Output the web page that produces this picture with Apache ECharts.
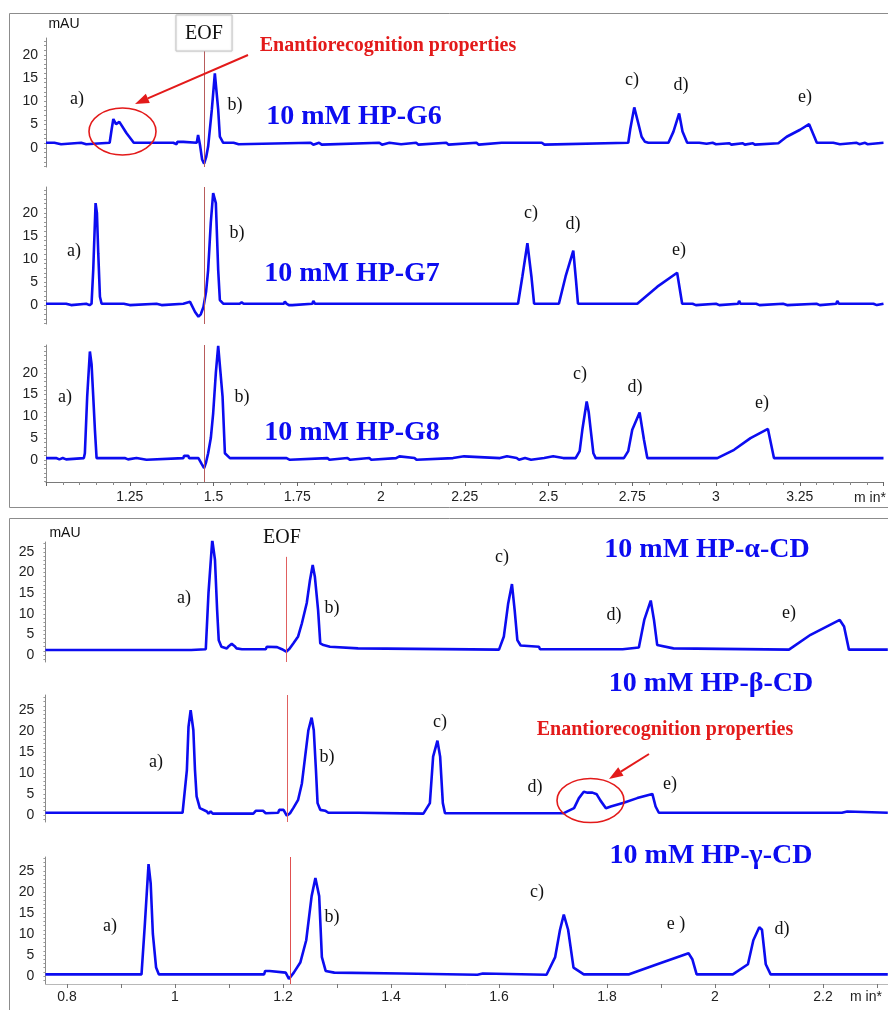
<!DOCTYPE html>
<html>
<head>
<meta charset="utf-8">
<script src="https://cdn.jsdelivr.net/npm/echarts@6/dist/echarts.min.js"></script>
<style>
html, body { margin: 0; padding: 0; background: #fff; }
#chart { width: 888px; height: 1010px; }
</style>
</head>
<body>
<div id="chart"></div>
<script>
// tick labels
var topXLabels = [1.25, 1.5, 1.75, 2, 2.25, 2.5, 2.75, 3, 3.25];
var bottomXLabels = [0.8, 1, 1.2, 1.4, 1.6, 1.8, 2, 2.2];
var bottomXTicks = [0.8, 0.9, 1, 1.1, 1.2, 1.3, 1.4, 1.5, 1.6, 1.7, 1.8, 1.9, 2, 2.1, 2.2, 2.3];
var topYLabels = [0, 5, 10, 15, 20];
var bottomYLabels = [0, 5, 10, 15, 20, 25];
var yTicks = [-5, -4, -3, -2, -1, 0, 1, 2, 3, 4, 5, 6, 7, 8, 9, 10, 11, 12, 13, 14, 15, 16, 17, 18, 19, 20, 21, 22, 23, 24, 25, 26, 27, 28, 29, 30];

// EOF positions (min)
var eofTop = 1.473;
var eofAlpha = 1.206;
var eofBeta = 1.208;
var eofGamma = 1.213;

// traces [min, mAU]
var traceG6 = [
	[1.000,1.1],[1.025,1.1],[1.027,0.8],[1.045,0.8],[1.047,1.1],[1.105,1.1],[1.107,0.8],[1.120,0.8],[1.122,1.1],
	[1.190,1.1],[1.196,4.0],[1.201,6.2],[1.209,5.1],[1.219,5.6],[1.240,3.2],[1.262,1.1],
	[1.380,1.1],[1.382,0.8],[1.390,0.8],[1.392,1.3],[1.410,1.3],[1.412,1.1],
	[1.450,1.1],[1.454,2.8],[1.460,0.5],[1.466,-2.5],[1.472,-3.4],[1.478,-2.0],[1.484,0.3],[1.495,8.2],[1.504,16.0],[1.514,8.2],[1.519,2.4],[1.529,1.1],
	[1.560,1.1],[1.562,0.8],[1.575,0.8],[1.577,1.1],
	[1.790,1.1],[1.792,0.7],[1.798,0.7],[1.800,1.1],[1.815,1.1],[1.817,0.7],[1.823,0.7],[1.825,1.1],
	[1.995,1.1],[1.997,0.7],[2.003,0.7],[2.005,1.1],[2.025,1.1],[2.027,0.8],[2.060,0.8],[2.062,1.1],
	[2.105,1.1],[2.107,0.7],[2.112,0.7],[2.114,1.1],[2.195,1.1],[2.197,0.7],[2.202,0.7],[2.204,1.1],
	[2.285,1.1],[2.287,0.7],[2.292,0.7],[2.294,1.1],[2.360,1.1],[2.364,1.4],[2.368,1.1],
	[2.480,1.1],[2.482,0.7],[2.488,0.7],[2.490,1.1],
	[2.738,1.1],[2.744,4.0],[2.756,8.7],[2.768,5.3],[2.778,2.4],[2.788,1.3],[2.798,1.1],
	[2.858,1.1],[2.873,3.5],[2.890,7.4],[2.900,3.5],[2.914,1.1],
	[2.950,1.1],[2.952,0.9],[2.972,0.9],[2.975,1.1],[2.990,1.1],[2.992,0.8],[3.000,0.8],[3.002,1.0],
	[3.040,1.0],[3.042,0.7],[3.046,0.7],[3.048,1.0],[3.080,1.0],[3.082,0.7],[3.086,0.7],[3.088,1.0],
	[3.110,1.0],[3.112,0.7],[3.116,0.7],[3.118,1.0],
	[3.186,1.0],[3.211,2.4],[3.251,3.9],[3.278,5.1],[3.301,1.1],
	[3.350,1.1],[3.352,0.8],[3.370,0.8],[3.372,1.1],[3.420,1.1],[3.422,0.8],[3.428,0.8],[3.430,1.1],
	[3.445,1.1],[3.447,0.8],[3.452,0.8],[3.454,1.1],[3.500,1.1]
];

var traceG7 = [
	[1.000,0.3],[1.060,0.3],[1.062,0.0],[1.075,0.0],[1.077,0.3],[1.120,0.3],[1.122,0.0],[1.130,0.0],[1.132,0.3],
	[1.136,0.3],[1.141,7.6],[1.148,22.1],[1.152,20.0],[1.156,11.2],[1.161,1.8],[1.166,0.3],
	[1.225,0.3],[1.227,0.7],[1.232,0.3],[1.237,0.0],[1.250,0.0],[1.252,0.3],
	[1.330,0.3],[1.332,0.0],[1.345,0.0],[1.347,0.3],
	[1.410,0.3],[1.412,0.7],[1.430,0.7],[1.435,0.3],[1.445,-1.5],[1.455,-2.5],[1.462,-2.0],[1.470,-0.4],[1.478,3.0],[1.484,7.6],[1.492,18.0],[1.499,24.3],[1.507,22.1],[1.514,7.6],[1.519,1.1],[1.529,0.3],
	[1.570,0.3],[1.572,0.6],[1.578,0.3],[1.584,0.6],[1.590,0.3],
	[1.710,0.3],[1.713,0.8],[1.718,0.3],[1.725,0.0],[1.735,0.0],[1.737,0.3],[1.795,0.3],[1.798,0.9],[1.803,0.3],
	[2.133,0.3],[2.136,0.6],[2.140,0.3],[2.275,0.3],[2.278,0.7],[2.282,0.3],
	[2.409,0.3],[2.422,6.2],[2.437,13.4],[2.449,6.2],[2.457,0.3],
	[2.531,0.3],[2.551,6.2],[2.574,11.8],[2.582,5.4],[2.588,0.3],
	[2.765,0.3],[2.825,4.0],[2.884,7.0],[2.899,0.3],
	[2.930,0.3],[2.932,0.0],[2.940,0.0],[2.942,0.3],[3.000,0.3],[3.002,0.0],[3.010,0.0],[3.012,0.3],
	[3.066,0.3],[3.069,0.9],[3.073,0.3],[3.120,0.3],[3.122,0.0],[3.130,0.0],[3.132,0.3],
	[3.200,0.3],[3.202,0.0],[3.212,0.0],[3.214,0.3],[3.300,0.3],[3.302,0.0],[3.310,0.0],[3.312,0.3],
	[3.359,0.3],[3.362,0.9],[3.367,0.3],[3.395,0.3],[3.398,0.6],[3.402,0.3],[3.470,0.3],[3.472,0.0],[3.480,0.0],[3.482,0.3],[3.500,0.3]
];

var traceG8 = [
	[1.000,0.4],[1.030,0.4],[1.032,0.1],[1.040,0.1],[1.042,0.4],[1.050,0.4],[1.052,0.1],[1.060,0.1],[1.062,0.4],
	[1.113,0.4],[1.116,1.5],[1.123,14.6],[1.131,24.9],[1.136,22.0],[1.141,14.6],[1.146,6.9],[1.151,0.4],
	[1.235,0.4],[1.237,0.1],[1.245,0.1],[1.247,0.4],[1.270,0.4],[1.272,0.0],[1.300,0.0],[1.302,0.4],
	[1.410,0.4],[1.412,0.9],[1.425,0.9],[1.427,0.4],
	[1.455,0.4],[1.465,-1.0],[1.472,-1.9],[1.478,-0.5],[1.484,1.5],[1.492,5.0],[1.499,10.7],[1.507,20.0],[1.514,26.2],[1.519,26.2],[1.527,14.6],[1.534,1.5],[1.549,0.4],
	[1.710,0.4],[1.713,0.8],[1.718,0.4],[1.722,0.0],[1.728,0.0],[1.730,0.4],[1.840,0.4],[1.842,0.0],[1.846,0.0],[1.848,0.4],
	[1.900,0.4],[1.902,0.0],[1.908,0.0],[1.910,0.4],[1.965,0.4],[1.967,0.0],[1.971,0.0],[1.973,0.4],
	[2.045,0.4],[2.047,0.8],[2.055,0.8],[2.057,0.4],[2.100,0.4],[2.102,0.0],[2.106,0.0],[2.108,0.4],
	[2.215,0.4],[2.218,0.8],[2.248,0.8],[2.250,0.4],[2.355,0.4],[2.357,0.8],[2.376,0.8],[2.378,0.4],
	[2.405,0.4],[2.407,0.0],[2.412,0.0],[2.414,0.4],[2.430,0.4],[2.432,0.0],[2.448,0.0],[2.450,0.4],
	[2.487,0.4],[2.489,0.8],[2.514,0.8],[2.516,0.4],[2.544,0.4],[2.546,0.8],[2.550,0.4],
	[2.581,0.4],[2.593,2.0],[2.601,6.9],[2.614,13.4],[2.620,11.0],[2.626,6.9],[2.634,1.5],[2.641,0.4],
	[2.654,0.4],[2.656,0.8],[2.659,0.4],[2.684,0.4],[2.686,0.8],[2.689,0.4],
	[2.725,0.4],[2.738,2.0],[2.750,6.9],[2.772,10.9],[2.785,4.6],[2.795,0.4],
	[2.977,0.4],[2.979,0.8],[2.982,0.4],
	[3.004,0.4],[3.054,2.3],[3.103,5.0],[3.155,7.1],[3.173,0.4],
	[3.400,0.4],[3.402,0.8],[3.406,0.4],[3.500,0.4]
];

var traceAlpha = [
	[0.760,1.2],[1.030,1.2],[1.031,1.4],[1.057,1.4],[1.062,15.0],[1.069,27.9],[1.074,23.1],[1.078,10.9],[1.081,3.6],[1.086,2.0],[1.096,1.6],[1.100,2.2],[1.105,2.7],[1.110,2.2],[1.114,1.6],[1.124,1.4],
	[1.168,1.4],[1.170,2.0],[1.189,1.9],[1.191,1.6],[1.198,1.4],[1.206,0.8],[1.212,1.5],[1.219,2.8],[1.228,4.5],[1.235,7.7],[1.244,12.6],[1.250,18.2],[1.255,21.8],[1.259,19.0],[1.265,10.9],[1.269,2.8],[1.275,2.4],[1.287,2.0],[1.290,1.7],[1.339,1.6],[1.341,1.3],
	[1.600,1.3],[1.609,4.5],[1.617,12.5],[1.624,17.2],[1.629,10.9],[1.634,3.6],[1.640,2.3],[1.674,2.0],[1.676,1.4],
	[1.770,1.4],[1.772,1.8],[1.775,1.4],[1.829,1.4],[1.831,1.7],[1.859,1.8],[1.869,8.5],[1.881,13.2],[1.887,8.5],[1.893,2.4],[1.923,1.6],[1.925,1.3],
	[2.137,1.3],[2.177,4.9],[2.231,8.5],[2.239,6.9],[2.248,1.3],[2.320,1.3]
];

var traceBeta = [
	[0.760,0.5],[0.938,0.5],[0.940,0.9],[0.945,0.5],
	[1.014,0.5],[1.022,10.7],[1.025,21.0],[1.029,25.0],[1.034,20.2],[1.037,10.7],[1.040,4.4],[1.046,1.6],[1.059,0.8],[1.062,0.3],[1.066,0.8],[1.070,0.3],
	[1.145,0.3],[1.150,1.0],[1.163,1.0],[1.168,0.4],[1.191,0.5],[1.193,1.2],[1.201,1.2],[1.207,-0.2],[1.213,0.4],[1.219,1.6],[1.228,3.6],[1.235,7.5],[1.241,13.9],[1.247,20.2],[1.253,23.2],[1.257,20.2],[1.261,10.7],[1.264,2.8],[1.269,1.2],[1.278,1.0],[1.284,0.5],[1.339,0.5],[1.341,0.3],
	[1.460,0.3],[1.472,2.8],[1.478,13.9],[1.486,17.7],[1.491,13.9],[1.496,2.8],[1.500,0.4],
	[1.542,0.4],[1.544,0.8],[1.548,0.4],[1.576,0.4],[1.578,0.8],[1.582,0.4],
	[1.720,0.4],[1.739,1.6],[1.748,4.0],[1.757,5.5],[1.764,5.3],[1.773,5.3],[1.781,4.9],[1.788,3.4],[1.798,1.6],[1.807,2.0],[1.831,2.9],[1.856,4.0],[1.884,5.0],[1.890,2.0],[1.896,0.5],
	[2.235,0.5],[2.237,0.8],[2.245,0.8],[2.247,0.5],[2.320,0.5]
];

var traceGamma = [
	[0.760,0.4],[0.938,0.4],[0.944,12.0],[0.951,26.6],[0.955,22.0],[0.959,10.0],[0.965,2.0],[0.970,0.4],
	[1.165,0.4],[1.167,1.2],[1.175,1.2],[1.177,0.8],[1.205,0.8],[1.211,-0.7],[1.220,0.8],[1.232,3.2],[1.243,8.5],[1.253,19.0],[1.260,23.3],[1.267,19.0],[1.272,4.5],[1.279,1.2],[1.295,0.8],[1.297,0.6],
	[1.420,0.6],[1.422,0.3],[1.560,0.3],[1.562,0.6],[1.570,0.6],[1.572,0.3],
	[1.688,0.3],[1.704,4.5],[1.713,11.0],[1.720,14.6],[1.728,11.0],[1.738,2.0],[1.757,0.4],
	[1.841,0.4],[1.893,2.8],[1.951,5.4],[1.958,4.0],[1.966,0.4],
	[2.033,0.4],[2.035,0.8],[2.061,2.8],[2.071,8.5],[2.082,11.6],[2.087,11.0],[2.094,2.8],[2.103,0.4],[2.320,0.4]
];

var SANS = '"Liberation Sans", Arial, sans-serif';
var SERIF = '"Liberation Serif", "Times New Roman", serif';
var BLUE = '#0c0cf0';
var RED = '#e31a1a';

var panels = [
	{data: traceG6, left: 46, top: 38, width: 837.5, height: 129, xMin: 1, xMax: 3.5, yMin: -4.1, yMax: 23.6, yLabels: topYLabels, labelMargin: 8, eof: eofTop, eofSpan: [21, -4.1], eofColor: '#b85c5c', axis: 'none'},
	{data: traceG7, left: 46, top: 187, width: 837.5, height: 137, xMin: 1, xMax: 3.5, yMin: -4.1, yMax: 25.6, yLabels: topYLabels, labelMargin: 8, eof: eofTop, eofSpan: [25.6, -4.1], eofColor: '#b85c5c', axis: 'none'},
	{data: traceG8, left: 46, top: 345, width: 837.5, height: 137, xMin: 1, xMax: 3.5, yMin: -5.1, yMax: 26.4, yLabels: topYLabels, labelMargin: 8, eof: eofTop, eofSpan: [26.4, -5.1], eofColor: '#b85c5c', axis: 'top'},
	{data: traceAlpha, left: 45.4, top: 542, width: 842.4, height: 120, xMin: 0.76, xMax: 2.32, yMin: -1.7, yMax: 27.4, yLabels: bottomYLabels, labelMargin: 11, eof: eofAlpha, eofSpan: [23.8, -1.7], eofColor: '#e06060', axis: 'none'},
	{data: traceBeta, left: 45.4, top: 695, width: 842.4, height: 127, xMin: 0.76, xMax: 2.32, yMin: -1.7, yMax: 28.6, yLabels: bottomYLabels, labelMargin: 11, eof: eofBeta, eofSpan: [28.6, -1.7], eofColor: '#e06060', axis: 'none'},
	{data: traceGamma, left: 45.4, top: 857, width: 842.4, height: 127, xMin: 0.76, xMax: 2.32, yMin: -1.9, yMax: 28.3, yLabels: bottomYLabels, labelMargin: 11, eof: eofGamma, eofSpan: [28.3, -1.9], eofColor: '#e05050', axis: 'bottom'}
];

var grids = [], xAxes = [], yAxes = [], series = [];

panels.forEach(function (p, i) {
	grids.push({left: p.left, top: p.top, width: p.width, height: p.height, containLabel: false});

	var xa = {
		type: 'value', gridIndex: i, min: p.xMin, max: p.xMax,
		splitLine: {show: false},
		axisLine: {show: false, onZero: false},
		axisTick: {show: false},
		axisLabel: {show: false}
	};
	if (p.axis === 'top') {
		xa.interval = 0.25;
		xa.axisLine = {show: true, onZero: false, lineStyle: {color: '#7a7a7a', width: 1}};
		xa.axisTick = {show: true, length: 4, lineStyle: {color: '#666'}};
		xa.minorTick = {show: true, splitNumber: 5, length: 3, lineStyle: {color: '#888'}};
		xa.axisLabel = {show: true, customValues: topXLabels, fontSize: 14, color: '#222', fontFamily: SANS, margin: 8};
	} else if (p.axis === 'bottom') {
		xa.axisLine = {show: true, onZero: false, lineStyle: {color: '#b8b8b8', width: 1}};
		xa.axisTick = {show: true, length: 4, customValues: bottomXTicks, lineStyle: {color: '#777'}};
		xa.axisLabel = {show: true, customValues: bottomXLabels, fontSize: 14, color: '#222', fontFamily: SANS, margin: 6};
	}
	xAxes.push(xa);

	yAxes.push({
		type: 'value', gridIndex: i, min: p.yMin, max: p.yMax,
		splitLine: {show: false},
		axisLine: {show: true, onZero: false, lineStyle: {color: '#8a8a8a', width: 1}},
		axisTick: {
			show: true, length: 2,
			customValues: yTicks.filter(function (v) { return v >= p.yMin && v <= p.yMax; }),
			lineStyle: {color: '#999'}
		},
		axisLabel: {customValues: p.yLabels, fontSize: 14, color: '#222', fontFamily: SANS, margin: p.labelMargin}
	});

	series.push({
		type: 'line', xAxisIndex: i, yAxisIndex: i,
		data: p.data,
		showSymbol: false, symbol: 'none',
		lineStyle: {color: BLUE, width: 2.6},
		z: 3,
		markLine: {
			silent: true, symbol: ['none', 'none'], label: {show: false},
			lineStyle: {color: p.eofColor, width: 1, type: 'solid'},
			data: [[{coord: [p.eof, p.eofSpan[0]]}, {coord: [p.eof, p.eofSpan[1]]}]]
		}
	});
});

function txt(s, x, y, font, color) {
	return {
		type: 'text', x: x, y: y, z: 50,
		style: {text: s, font: font, fill: color || '#111', align: 'center', verticalAlign: 'middle', textAlign: 'center', textVerticalAlign: 'middle'}
	};
}

function arrow(x1, y1, x2, y2) {
	var dx = x2 - x1, dy = y2 - y1;
	var len = Math.sqrt(dx * dx + dy * dy);
	var ux = dx / len, uy = dy / len;
	var bx = x2 - ux * 14, by = y2 - uy * 14;
	return [
		{type: 'line', z: 50, shape: {x1: x1, y1: y1, x2: bx, y2: by}, style: {stroke: RED, lineWidth: 2}},
		{type: 'polygon', z: 50, shape: {points: [[x2, y2], [bx - uy * 5, by + ux * 5], [bx + uy * 5, by - ux * 5]]}, style: {fill: RED}}
	];
}

var lab = '18px ' + SERIF;
var title = 'bold 28px ' + SERIF;
var enantio = 'bold 20px ' + SERIF;

var graphics = [
	{type: 'rect', z: 0, shape: {x: 9.5, y: 13.5, width: 890, height: 494}, style: {fill: 'none', stroke: '#8c8c8c', lineWidth: 1}},
	{type: 'rect', z: 0, shape: {x: 9.5, y: 518.5, width: 890, height: 500}, style: {fill: 'none', stroke: '#8c8c8c', lineWidth: 1}},
	{type: 'rect', z: 40, shape: {x: 176, y: 15, width: 56, height: 36}, style: {fill: '#fff', stroke: '#c8c8c8', lineWidth: 1, shadowBlur: 2, shadowColor: 'rgba(0,0,0,0.15)'}},
	txt('EOF', 204, 34, '20px ' + SERIF),
	txt('mAU', 64, 24, '14px ' + SANS),
	txt('mAU', 65, 533, '14px ' + SANS),
	txt('EOF', 282, 538, '20px ' + SERIF),
	txt('m in*', 870, 498, '14px ' + SANS, '#222'),
	txt('m in*', 866, 997, '14px ' + SANS, '#222'),

	txt('Enantiorecognition properties', 388, 46, enantio, RED),
	txt('10 mM HP-G6', 354, 117, title, BLUE),
	txt('a)', 77, 99, lab), txt('b)', 235, 105, lab), txt('c)', 632, 80, lab), txt('d)', 681, 85, lab), txt('e)', 805, 97, lab),
	txt('10 mM HP-G7', 352, 274, title, BLUE),
	txt('a)', 74, 251, lab), txt('b)', 237, 233, lab), txt('c)', 531, 213, lab), txt('d)', 573, 224, lab), txt('e)', 679, 250, lab),
	txt('10 mM HP-G8', 352, 433, title, BLUE),
	txt('a)', 65, 397, lab), txt('b)', 242, 397, lab), txt('c)', 580, 374, lab), txt('d)', 635, 387, lab), txt('e)', 762, 403, lab),

	txt('10 mM HP-\u03b1-CD', 707, 550, title, BLUE),
	txt('a)', 184, 598, lab), txt('b)', 332, 608, lab), txt('c)', 502, 557, lab), txt('d)', 614, 615, lab), txt('e)', 789, 613, lab),
	txt('10 mM HP-\u03b2-CD', 711, 684, title, BLUE),
	txt('Enantiorecognition properties', 665, 730, enantio, RED),
	txt('a)', 156, 762, lab), txt('b)', 327, 757, lab), txt('c)', 440, 722, lab), txt('d)', 535, 787, lab), txt('e)', 670, 784, lab),
	txt('10 mM HP-\u03b3-CD', 711, 856, title, BLUE),
	txt('a)', 110, 926, lab), txt('b)', 332, 917, lab), txt('c)', 537, 892, lab), txt('e )', 676, 924, lab), txt('d)', 782, 929, lab),

	{type: 'ellipse', z: 50, shape: {cx: 122.5, cy: 131.5, rx: 33.5, ry: 23.5}, style: {fill: 'none', stroke: RED, lineWidth: 1.6}},
	{type: 'ellipse', z: 50, shape: {cx: 590.5, cy: 800.5, rx: 33.5, ry: 22}, style: {fill: 'none', stroke: RED, lineWidth: 1.6}}
].concat(arrow(248, 55, 135, 104)).concat(arrow(649, 754, 609, 779));

var chart = echarts.init(document.getElementById('chart'));
chart.setOption({
	animation: false,
	backgroundColor: '#fff',
	grid: grids,
	xAxis: xAxes,
	yAxis: yAxes,
	series: series,
	graphic: graphics
});
</script>
</body>
</html>
